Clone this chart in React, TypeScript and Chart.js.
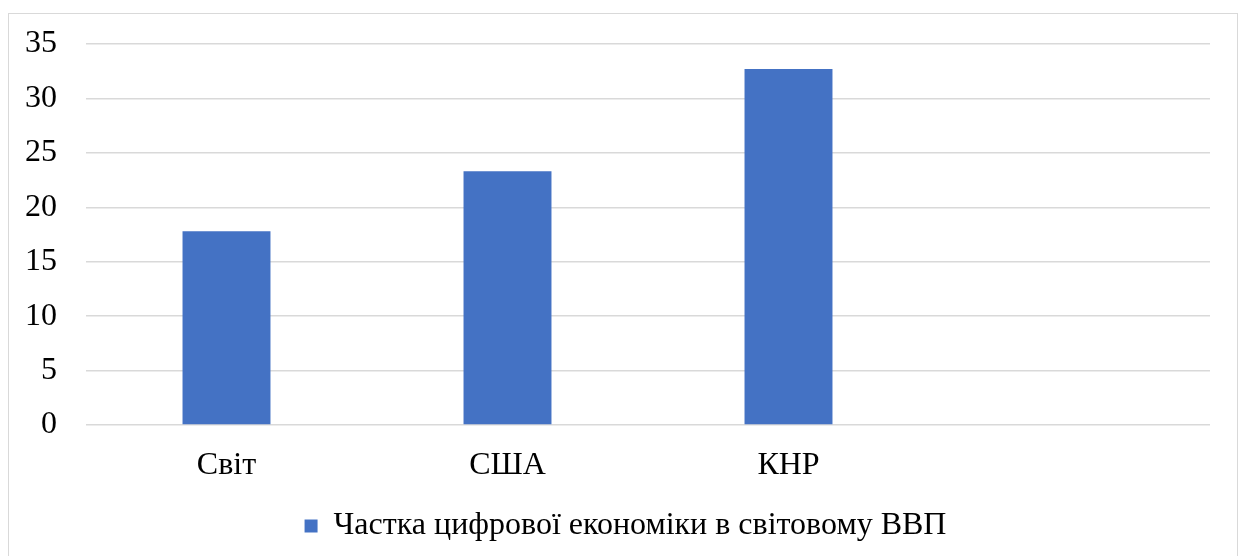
import React, { useEffect, useRef } from "react";
import { Chart, registerables } from "chart.js";

Chart.register(...registerables);

const categories: string[] = ["Світ", "США", "КНР", ""];
const shareValues: (number | null)[] = [17.8, 23.3, 32.7, null];
const seriesLabel = "Частка цифрової економіки в світовому ВВП";
const yTicks: number[] = [0, 5, 10, 15, 20, 25, 30, 35];

const legendShift = {
  id: "legendShift",
  afterLayout(chart: any) {
    if (chart.legend) chart.legend.left += 41;
  },
};

export default function App() {
  const canvasRef = useRef<HTMLCanvasElement | null>(null);

  useEffect(() => {
    if (!canvasRef.current) return;
    const chart = new Chart(canvasRef.current, {
      type: "bar",
      data: {
        labels: categories,
        datasets: [
          {
            label: seriesLabel,
            data: shareValues,
            backgroundColor: "#4472C4",
            borderWidth: 0,
            barPercentage: 1,
            categoryPercentage: 0.313,
          },
        ],
      },
      plugins: [legendShift],
      options: {
        animation: false,
        responsive: false,
        maintainAspectRatio: false,
        layout: { padding: { left: 0, right: 30, top: 44, bottom: 4 } },
        plugins: {
          tooltip: { enabled: false },
          legend: {
            position: "bottom",
            labels: {
              boxWidth: 13,
              boxHeight: 13,
              padding: 0,
              color: "#000",
              font: { family: "'Liberation Serif', 'Times New Roman', serif", size: 32 },
            },
          },
        },
        scales: {
          x: {
            grid: { display: false, drawTicks: false },
            border: { display: false },
            afterFit: (scale: any) => {
              scale.height = 85;
            },
            ticks: {
              color: "#000",
              padding: 21,
              font: { family: "'Liberation Serif', 'Times New Roman', serif", size: 32 },
            },
          },
          y: {
            min: 0,
            max: 35,
            afterBuildTicks: (scale: any) => {
              scale.ticks = yTicks.map((v) => ({ value: v }));
            },
            afterFit: (scale: any) => {
              scale.width = 86;
            },
            grid: {
              color: "#d9d9d9",
              lineWidth: 1.5,
              drawTicks: true,
              tickLength: 25,
              tickColor: "rgba(0,0,0,0)",
            },
            border: { display: false },
            ticks: {
              color: "#000",
              padding: 4,
              font: { family: "'Liberation Serif', 'Times New Roman', serif", size: 32 },
            },
          },
        },
      },
    });
    return () => chart.destroy();
  }, []);

  return (
    <div style={{ position: "absolute", left: 0, top: 0, width: 1240, height: 556, background: "#fff", overflow: "hidden" }}>
      <div
        style={{
          position: "absolute",
          left: 8,
          top: 13,
          width: 1230,
          height: 560,
          border: "1.5px solid #d9d9d9",
          boxSizing: "border-box",
        }}
      />
      <canvas ref={canvasRef} width={1240} height={556} style={{ position: "absolute", left: 0, top: 0 }} />
    </div>
  );
}
